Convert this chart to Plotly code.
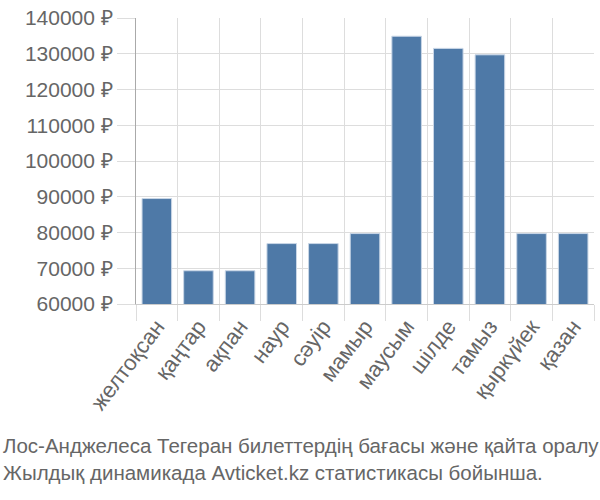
import plotly.graph_objects as go

months = ["желтоқсан", "қаңтар", "ақпан", "наур", "сәуір", "мамыр",
          "маусым", "шілде", "тамыз", "қыркүйек", "қазан"]
prices = [89500, 69300, 69300, 76900, 76900, 79700,
          134900, 131500, 129700, 79700, 79700]
yticks = [60000, 70000, 80000, 90000, 100000, 110000, 120000, 130000, 140000]
ytick_text = [f"{v} ₽" for v in yticks]
title_lines = ["Лос-Анджелеса Тегеран билеттердің бағасы және қайта оралу",
               "Жылдық динамикада Avticket.kz статистикасы бойынша."]

fig = go.Figure(go.Bar(
    x=months, y=prices, base=0,
    marker=dict(color="#4e79a7", line=dict(color="#c9d6e6", width=1)),
))

fig.update_layout(
    width=600, height=500,
    margin=dict(l=136, r=6, t=14, b=196),
    plot_bgcolor="white", paper_bgcolor="white",
    bargap=0.29,
    showlegend=False,
    font=dict(family="Liberation Sans, Arial, sans-serif", color="#666666", size=21),
)
fig.update_xaxes(
    type="category", tickson="boundaries", showgrid=True, gridcolor="#dddddd", gridwidth=1,
    ticks="outside", ticklen=16, tickcolor="#dddddd",
    tickangle=-53, tickfont=dict(size=22, color="#666666"),
    showline=True, linecolor="#cccccc", linewidth=1,
)
fig.update_yaxes(
    range=[60000, 140000], tickvals=yticks, ticktext=ytick_text,
    showgrid=True, gridcolor="#dddddd", gridwidth=1,
    ticks="outside", ticklen=18, tickcolor="#dddddd",
    tickfont=dict(size=21, color="#666666"),
    showline=True, linecolor="#aaaaaa", linewidth=1,
    zeroline=False,
)

for i, line in enumerate(title_lines):
    fig.add_annotation(
        text=line, xref="paper", yref="paper",
        x=(1 - 136) / 458, xanchor="left", y=-(447 - 304 + i * 28) / 290, yanchor="middle",
        showarrow=False,
        font=dict(family="Liberation Sans, Arial, sans-serif", size=20.5, color="#666666"),
    )

fig.write_html("out.html")
